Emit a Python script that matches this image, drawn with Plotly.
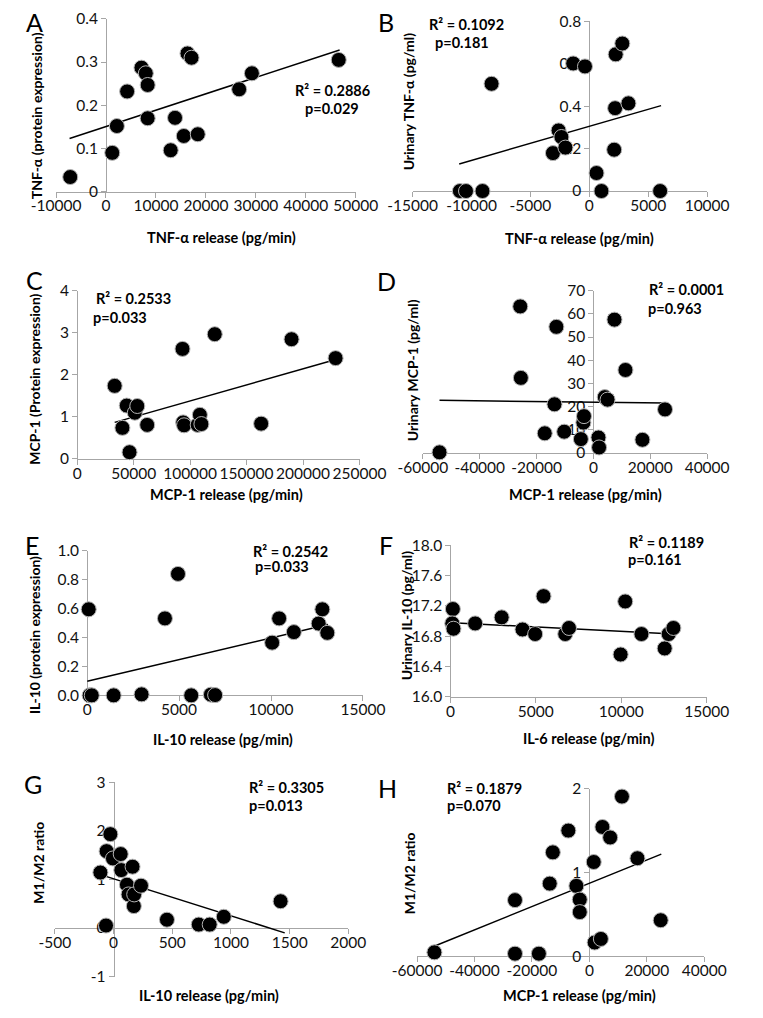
import plotly.graph_objects as go

W, H = 763, 1018

# ---------------- data ----------------
# A: TNF-alpha release vs TNF-alpha protein expression
a_x = [-7160, 1250, 2180, 4230, 7100, 7970, 8340, 8340, 12950, 13820, 15570, 16310, 17120, 18370, 26650, 29200, 46580]
a_y = [0.034, 0.090, 0.152, 0.232, 0.287, 0.274, 0.247, 0.170, 0.096, 0.171, 0.129, 0.320, 0.310, 0.133, 0.237, 0.274, 0.305]
a_trend_x = [-7290, 46760]
a_trend_y = [0.123, 0.328]

# B: TNF-alpha release vs urinary TNF-alpha
b_x = [-10990, -10470, -9070, -8300, -3090, -2610, -2370, -2030, -1370, -370, 610, 1030, 2110, 2190, 2240, 2800, 3320, 6010]
b_y = [0.0, 0.0, 0.0, 0.506, 0.179, 0.286, 0.255, 0.205, 0.602, 0.588, 0.085, 0.0, 0.195, 0.391, 0.645, 0.696, 0.414, 0.0]
b_trend_x = [-11050, 6090]
b_trend_y = [0.128, 0.403]

# C: MCP-1 release vs MCP-1 protein expression
c_x = [33190, 40050, 43890, 46360, 51020, 53210, 61990, 93260, 93810, 94640, 106700, 108620, 110000, 121800, 162900, 189800, 228800]
c_y = [1.74, 0.74, 1.27, 0.16, 1.10, 1.26, 0.81, 2.62, 0.87, 0.80, 0.81, 1.05, 0.83, 2.97, 0.84, 2.85, 2.40]
c_trend_x = [33190, 228200]
c_trend_y = [0.87, 2.36]

# D: MCP-1 release vs urinary MCP-1
d_x = [-54150, -25750, -25530, -17130, -13700, -13040, -10280, -4420, -3540, -3320, 1770, 1990, 3980, 4970, 7400, 11270, 17240, 25190]
d_y = [0.3, 63.2, 32.4, 8.5, 21.0, 54.4, 9.2, 6.0, 13.1, 15.9, 6.7, 2.4, 24.1, 23.0, 57.5, 35.8, 5.7, 18.8]
d_trend_x = [-54150, 25400]
d_trend_y = [22.7, 21.6]

# E: IL-10 release vs IL-10 protein expression
e_x = [85, 135, 250, 1440, 2960, 4230, 4940, 5660, 6730, 6960, 10060, 10440, 11240, 12590, 12790, 13060]
e_y = [0.596, 0.0, 0.0, 0.0, 0.007, 0.533, 0.841, 0.0, 0.005, 0.002, 0.365, 0.533, 0.438, 0.497, 0.596, 0.433]
e_trend_x = [0, 13100]
e_trend_y = [0.098, 0.49]

# F: IL-6 release vs urinary IL-10
f_x = [145, 110, 180, 1450, 3000, 4220, 4960, 5450, 6720, 6940, 9960, 10230, 11180, 12540, 12770, 13050]
f_y = [17.16, 16.97, 16.90, 16.97, 17.05, 16.89, 16.83, 17.33, 16.83, 16.91, 16.56, 17.26, 16.83, 16.64, 16.83, 16.91]
f_trend_x = [100, 13050]
f_trend_y = [16.98, 16.83]

# G: IL-10 release vs M1/M2 ratio
g_x = [-112, -64, -59, -27, -5, 61, 66, 114, 128, 162, 173, 176, 234, 455, 726, 819, 939, 1423]
g_y = [1.14, 0.05, 1.58, 1.93, 1.43, 1.52, 1.19, 0.89, 0.69, 1.26, 0.45, 0.69, 0.87, 0.17, 0.07, 0.07, 0.23, 0.55]
g_trend_x = [-125, 1458]
g_trend_y = [1.107, -0.10]

# H: MCP-1 release vs M1/M2 ratio
h_x = [-53950, -25900, -25900, -17590, -13810, -12730, -7340, -4530, -3350, -3350, 1510, 1830, 3990, 4530, 7230, 11330, 16720, 24820]
h_y = [0.047, 0.67, 0.031, 0.031, 0.867, 1.24, 1.50, 0.84, 0.676, 0.527, 1.125, 0.164, 0.207, 1.543, 1.418, 1.906, 1.17, 0.43]
h_trend_x = [-54270, 25030]
h_trend_y = [0.117, 1.219]

# tick values / labels
a_xticks = [-10000, 0, 10000, 20000, 30000, 40000, 50000]
a_xlabels = ["-10000", "0", "10000", "20000", "30000", "40000", "50000"]
a_yticks = [0, 0.1, 0.2, 0.3, 0.4]
a_ylabels = ["0", "0.1", "0.2", "0.3", "0.4"]
b_xticks = [-15000, -10000, -5000, 0, 5000, 10000]
b_xlabels = ["-15000", "-10000", "-5000", "0", "5000", "10000"]
b_yticks = [0, 0.2, 0.4, 0.6, 0.8]
b_ylabels = ["0", "0.2", "0.4", "0.6", "0.8"]
c_xticks = [0, 50000, 100000, 150000, 200000, 250000]
c_xlabels = ["0", "50000", "100000", "150000", "200000", "250000"]
c_yticks = [0, 1, 2, 3, 4]
c_ylabels = ["0", "1", "2", "3", "4"]
d_xticks = [-60000, -40000, -20000, 0, 20000, 40000]
d_xlabels = ["-60000", "-40000", "-20000", "0", "20000", "40000"]
d_yticks = [0, 10, 20, 30, 40, 50, 60, 70]
d_ylabels = ["0", "10", "20", "30", "40", "50", "60", "70"]
e_xticks = [0, 5000, 10000, 15000]
e_xlabels = ["0", "5000", "10000", "15000"]
e_yticks = [0, 0.2, 0.4, 0.6, 0.8, 1.0]
e_ylabels = ["0.0", "0.2", "0.4", "0.6", "0.8", "1.0"]
f_xticks = [0, 5000, 10000, 15000]
f_xlabels = ["0", "5000", "10000", "15000"]
f_yticks = [16.0, 16.4, 16.8, 17.2, 17.6, 18.0]
f_ylabels = ["16.0", "16.4", "16.8", "17.2", "17.6", "18.0"]
g_xticks = [-500, 0, 500, 1000, 1500, 2000]
g_xlabels = ["-500", "0", "500", "1000", "1500", "2000"]
g_yticks = [-1, 0, 1, 2, 3]
g_ylabels = ["-1", "0", "1", "2", "3"]
h_xticks = [-60000, -40000, -20000, 0, 20000, 40000]
h_xlabels = ["-60000", "-40000", "-20000", "0", "20000", "40000"]
h_yticks = [0, 1, 2]
h_ylabels = ["0", "1", "2"]

# ---------------- layout of the panels (pixels) ----------------
panels = [
    dict(x=a_x, y=a_y, tx=a_trend_x, ty=a_trend_y, xr=[-10000, 50000], yr=[0, 0.4],
         box=(33.3, 355, 9, 185), xt=a_xticks, xl=a_xlabels, yt=a_yticks, yl=a_ylabels, ycross=0, xcross=0),
    dict(x=b_x, y=b_y, tx=b_trend_x, ty=b_trend_y, xr=[-15000, 10000], yr=[0, 0.8],
         box=(416, 732, 11.7, 184.3), xt=b_xticks, xl=b_xlabels, yt=b_yticks, yl=b_ylabels, ycross=0, xcross=0),
    dict(x=c_x, y=c_y, tx=c_trend_x, ty=c_trend_y, xr=[0, 250000], yr=[0, 4],
         box=(56, 359, 286, 457), xt=c_xticks, xl=c_xlabels, yt=c_yticks, yl=c_ylabels, ycross=0, xcross=0),
    dict(x=d_x, y=d_y, tx=d_trend_x, ty=d_trend_y, xr=[-60000, 40000], yr=[0, 70],
         box=(427, 732, 285.7, 451), xt=d_xticks, xl=d_xlabels, yt=d_yticks, yl=d_ylabels, ycross=0, xcross=0),
    dict(x=e_x, y=e_y, tx=e_trend_x, ty=e_trend_y, xr=[0, 15000], yr=[0, 1.0],
         box=(66.7, 362.7, 550.7, 697.7), xt=e_xticks, xl=e_xlabels, yt=e_yticks, yl=e_ylabels, ycross=0, xcross=0),
    dict(x=f_x, y=f_y, tx=f_trend_x, ty=f_trend_y, xr=[0, 15000], yr=[16, 18],
         box=(456.5, 731.6, 545, 699.3), xt=f_xticks, xl=f_xlabels, yt=f_yticks, yl=f_ylabels, ycross=0, xcross=16),
    dict(x=g_x, y=g_y, tx=g_trend_x, ty=g_trend_y, xr=[-500, 2000], yr=[-1, 3],
         box=(32, 347, 786, 984), xt=g_xticks, xl=g_xlabels, yt=g_yticks, yl=g_ylabels, ycross=0, xcross=0),
    dict(x=h_x, y=h_y, tx=h_trend_x, ty=h_trend_y, xr=[-60000, 40000], yr=[0, 2],
         box=(420.7, 729, 792.7, 963.3), xt=h_xticks, xl=h_xlabels, yt=h_yticks, yl=h_ylabels, ycross=0, xcross=0),
]

letters = [("A", 10, 12), ("B", 387, 12), ("C", 10, 275), ("D", 388, 276),
           ("E", 8, 545), ("F", 387, 545), ("G", 9, 788), ("H", 389, 792)]
x_titles = [("TNF-α release (pg/min)", 211, 232), ("TNF-α release (pg/min)", 595, 233),
            ("MCP-1 release (pg/min)", 216, 493), ("MCP-1 release (pg/min)", 601, 493),
            ("IL-10 release (pg/min)", 212, 743), ("IL-6 release (pg/min)", 605, 742),
            ("IL-10 release (pg/min)", 197, 1003), ("MCP-1 release (pg/min)", 595, 1003)]
y_titles = [("TNF-α (protein expression)", 12, 108), ("Urinary TNF-α (pg/ml)", 411, 93),
            ("MCP-1 (Protein expression)", 10, 376), ("Urinary MCP-1 (pg/ml)", 416, 367),
            ("IL-10 (protein expression)", 10, 636), ("Urinary IL-10 (pg/ml)", 409, 617),
            ("M1/M2 ratio", 15, 868), ("M1/M2 ratio", 413, 879)]
stats = [("R² = 0.2886", 288, 82), ("p=0.029", 298, 100),
         ("R² = 0.1092", 431, 15), ("p=0.181", 438, 33),
         ("R² = 0.2533", 74, 294), ("p=0.033", 71, 313),
         ("R² = 0.0001", 668, 285), ("p=0.963", 666, 304),
         ("R² = 0.2542", 243, 551), ("p=0.033", 245, 567),
         ("R² = 0.1189", 646, 542), ("p=0.161", 645, 559),
         ("R² = 0.3305", 238, 791), ("p=0.013", 238, 810),
         ("R² = 0.1879", 451, 793), ("p=0.070", 451, 810)]

FONT = "Lato, Carlito, Calibri, 'Open Sans', sans-serif"
AXIS_COLOR = "#a6a6a6"

fig = go.Figure()
layout = dict(width=W, height=H, margin=dict(l=0, r=0, t=0, b=0),
              paper_bgcolor="white", plot_bgcolor="white", showlegend=False,
              font=dict(family=FONT, color="#111111", size=15))

for i, p in enumerate(panels, start=1):
    xs = "" if i == 1 else str(i)
    l, r, t, b = p["box"]
    xr, yr = p["xr"], p["yr"]
    ypos = (l + (p["ycross"] - xr[0]) / (xr[1] - xr[0]) * (r - l)) / W
    xpos = 1 - (b - (p["xcross"] - yr[0]) / (yr[1] - yr[0]) * (b - t)) / H
    common = dict(showgrid=False, zeroline=False, showline=True, linecolor=AXIS_COLOR, linewidth=1,
                  ticks="outside", ticklen=5, tickcolor=AXIS_COLOR, tickwidth=1,
                  layer="below traces", tickfont=dict(family=FONT, size=15.5, color="#111111"),
                  fixedrange=True)
    layout["xaxis" + xs] = dict(common, domain=[l / W, r / W], range=xr, anchor="free", position=xpos,
                                tickmode="array", tickvals=p["xt"], ticktext=p["xl"], tickangle=0,
                                ticklabelstandoff=-5)
    layout["yaxis" + xs] = dict(common, domain=[1 - b / H, 1 - t / H], range=yr, anchor="free", position=ypos,
                                tickmode="array", tickvals=p["yt"], ticktext=p["yl"])
    fig.add_trace(go.Scatter(x=p["tx"], y=p["ty"], mode="lines", xaxis="x" + xs, yaxis="y" + xs,
                             line=dict(color="black", width=1.5), hoverinfo="skip", cliponaxis=False))
    fig.add_trace(go.Scatter(x=p["x"], y=p["y"], mode="markers", xaxis="x" + xs, yaxis="y" + xs,
                             marker=dict(size=15, color="black", line=dict(color="#b4b4b4", width=1)),
                             cliponaxis=False))

ann = []
for txt, cx, cy in letters:
    ann.append(dict(text=txt, x=cx / W, y=1 - cy / H, xref="paper", yref="paper", showarrow=False,
                    xanchor="center", yanchor="middle", font=dict(family=FONT, size=25, color="black")))
for txt, cx, cy in x_titles:
    ann.append(dict(text=txt, x=cx / W, y=1 - cy / H, xref="paper", yref="paper", showarrow=False,
                    xanchor="center", yanchor="middle",
                    font=dict(family=FONT, size=14.5, color="black", weight="bold")))
for txt, cx, cy in y_titles:
    ann.append(dict(text=txt, x=cx / W, y=1 - cy / H, xref="paper", yref="paper", showarrow=False,
                    xanchor="center", yanchor="middle", textangle=-90,
                    font=dict(family=FONT, size=14, color="black", weight="bold")))
for txt, lx, cy in stats:
    ann.append(dict(text=txt, x=lx / W, y=1 - cy / H, xref="paper", yref="paper", showarrow=False,
                    xanchor="left", yanchor="middle",
                    font=dict(family=FONT, size=14.5, color="black", weight="bold")))
layout["annotations"] = ann

fig.update_layout(**layout)
fig.write_html("out.html", config={"displayModeBar": False},
               post_script="document.body.style.margin='0';")
